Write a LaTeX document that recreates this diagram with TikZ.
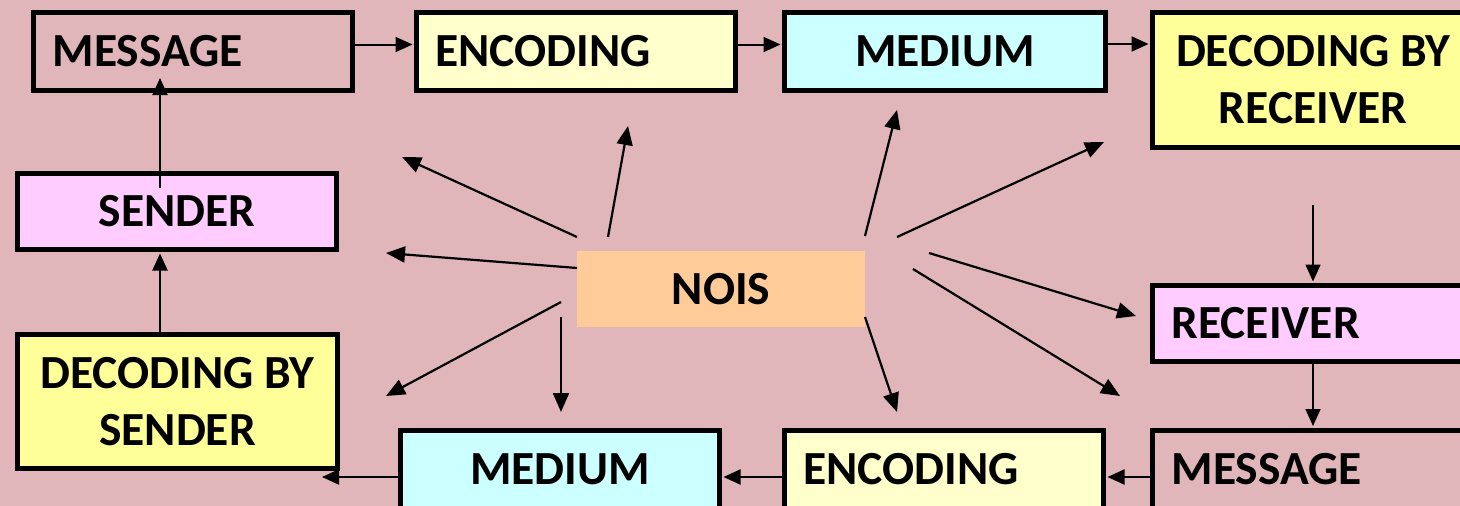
\documentclass[tikz,border=0pt]{standalone}
\usepackage{fontspec}
\setmainfont{Carlito}
\usetikzlibrary{arrows.meta,calc}
\definecolor{bgpink}{RGB}{224,182,186}
\definecolor{encfill}{RGB}{255,255,204}
\definecolor{medfill}{RGB}{204,255,255}
\definecolor{decfill}{RGB}{255,255,153}
\definecolor{pinkfill}{RGB}{255,204,255}
\definecolor{noisfill}{RGB}{255,204,153}
\begin{document}
\begin{tikzpicture}[x=1pt,y=-1pt,
  box/.style={draw=black,line width=5pt,rectangle,minimum width=319pt,minimum height=78pt,
    inner sep=0pt,font=\fontsize{47.5}{57}\selectfont\bfseries,align=center},
  lbox/.style={box,inner xsep=19pt,text width=281pt,align=left},
  conn/.style={line width=2pt,-{Triangle[length=17pt,width=15pt]},shorten >=1.5pt},
  noisearrow/.style={line width=2.2pt,-{Triangle[length=19pt,width=16pt]}}]
\useasboundingbox (0,0) rectangle (1460,506);
\fill[bgpink] (0,0) rectangle (1460,506);

% boxes
\node[lbox] (msgT) at (193,51.5) {MESSAGE};
\node[lbox,fill=encfill] (encT) at (576,51.5) {ENCODING};
\node[box,fill=medfill,minimum width=321pt] (medT) at (945,51.5) {MEDIUM};
\node[box,fill=decfill,minimum width=321pt,minimum height=135pt] (decR) at (1313,80) {DECODING BY\\RECEIVER};
\node[box,fill=pinkfill,minimum height=76pt] (sender) at (177,211.5) {SENDER};
\node[box,fill=decfill,minimum width=320pt,minimum height=134pt] (decS) at (177.5,401.5) {DECODING BY\\SENDER};
\node[lbox,fill=pinkfill,minimum height=76pt,text width=283pt] (recv) at (1313,323.5) {RECEIVER};
\node[box,fill=medfill] (medB) at (560,469) {MEDIUM};
\node[lbox,fill=encfill] (encB) at (944,469) {ENCODING};
\node[lbox,minimum width=321pt,text width=283pt] (msgB) at (1313,469) {MESSAGE};
\node[fill=noisfill,minimum width=288pt,minimum height=76pt,inner sep=0pt,
  font=\fontsize{47.5}{57}\selectfont\bfseries] (nois) at (721,289) {NOIS};

% free coordinates
\coordinate (rstart) at (1313,205);
\coordinate (lend) at (322,477);
\coordinate (sstart) at (160,188);
\coordinate (send) at (160,78);

% main flow
\draw[conn] ([yshift=7pt]msgT.east) -- ([yshift=7pt]encT.west);
\draw[conn] ([yshift=7pt]encT.east) -- ([yshift=7pt]medT.west);
\draw[conn] (medT.east |- 0,44) -- (decR.west |- 0,44);
\draw[conn,line width=1.6pt] (rstart) -- (recv.north);
\draw[conn,line width=1.6pt] (recv.south) -- (msgB.north);
\draw[conn] (msgB.west |- 0,477) -- (encB.east |- 0,477);
\draw[conn] (encB.west |- 0,477) -- (medB.east |- 0,477);
\draw[conn,shorten >=0pt] (medB.west |- 0,477) -- (lend);
\draw[conn] (decS.north -| 160,0) -- (sender.south -| 160,0);
\draw[conn,shorten >=0pt] (sstart) -- (send);

% noise arrows
\foreach \i/\sx/\sy/\ex/\ey in {1/577/237/402/157, 2/608/237/628/126, 3/577/268/386/253,
  4/561/302/386/396, 5/561/317/561/412, 6/865/236/897/110, 7/897/237/1104/142,
  8/929/253/1136/316, 9/913/269/1120/396, 10/865/317/897/412}{
  \coordinate (ns\i) at (\sx,\sy);
  \coordinate (ne\i) at (\ex,\ey);
  \draw[noisearrow] (ns\i) -- (ne\i);
}
\end{tikzpicture}
\end{document}
